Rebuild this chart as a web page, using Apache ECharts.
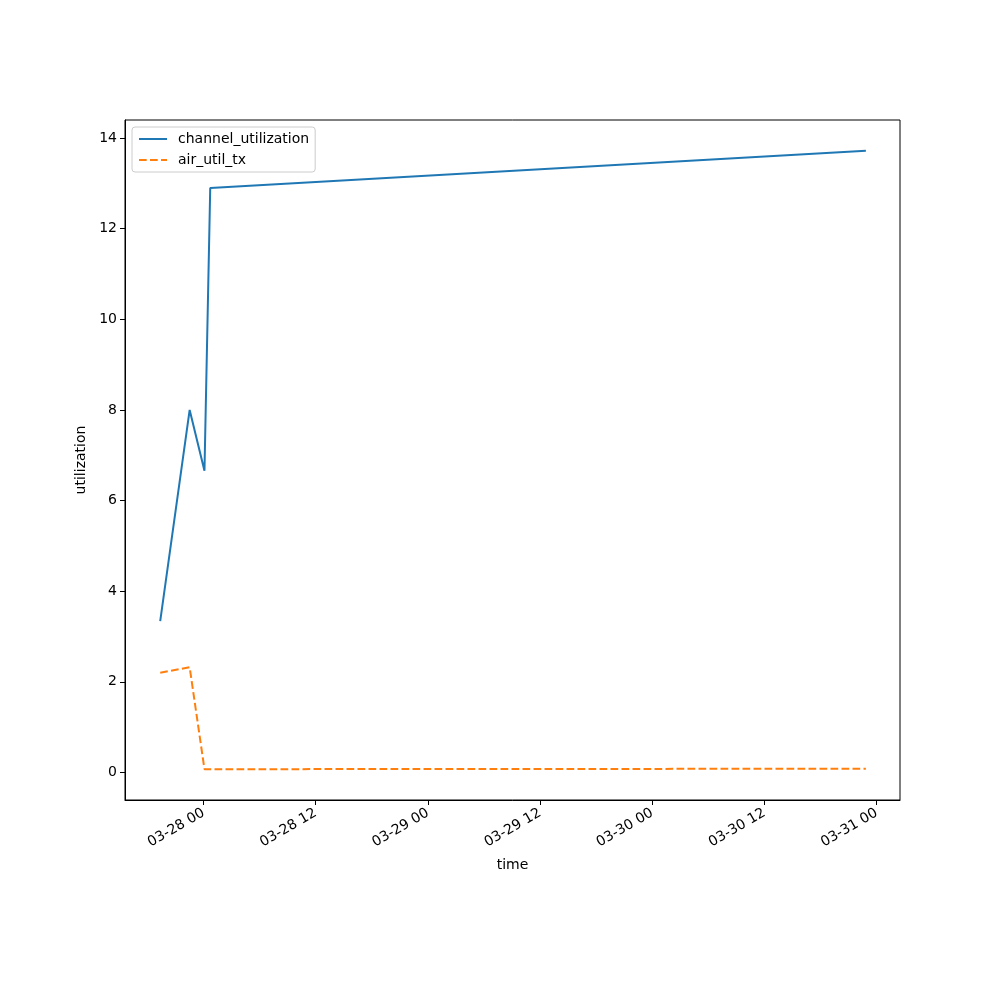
<!DOCTYPE html>
<html>
<head>
<meta charset="utf-8">
<script src="https://cdn.jsdelivr.net/npm/echarts@6/dist/echarts.min.js"></script>
<style>html,body{margin:0;padding:0;background:#fff;}#c{width:1000px;height:1000px;}</style>
</head>
<body>
<div id="c"></div>
<script>
const times = [
  Date.UTC(2024, 2, 27, 19, 22),
  Date.UTC(2024, 2, 27, 22, 31),
  Date.UTC(2024, 2, 28, 0, 6),
  Date.UTC(2024, 2, 28, 0, 43),
  Date.UTC(2024, 2, 30, 22, 51)
];
const channelUtilization = [3.34, 8.0, 6.66, 12.9, 13.72];
const airUtilTx = [2.2, 2.32, 0.07, 0.07, 0.08];
const xTicks = [
  Date.UTC(2024, 2, 28, 0), Date.UTC(2024, 2, 28, 12),
  Date.UTC(2024, 2, 29, 0), Date.UTC(2024, 2, 29, 12),
  Date.UTC(2024, 2, 30, 0), Date.UTC(2024, 2, 30, 12),
  Date.UTC(2024, 2, 31, 0)
];
const yTicks = [0, 2, 4, 6, 8, 10, 12, 14];

const H = 3600 * 1000;
const xMin = Date.UTC(2024, 2, 28, 0) - 8.4 * H;
const xMax = Date.UTC(2024, 2, 28, 0) + 74.5 * H;

function pad(n) { return (n < 10 ? '0' : '') + n; }
function fmt(v) {
  const d = new Date(v);
  return pad(d.getUTCMonth() + 1) + '-' + pad(d.getUTCDate()) + ' ' + pad(d.getUTCHours());
}

const chart = echarts.init(document.getElementById('c'), null, {renderer: 'canvas'});
const font = 'DejaVu Sans';
chart.setOption({
  animation: false,
  backgroundColor: '#fff',
  textStyle: {fontFamily: font},
  grid: {left: 125, right: 100, top: 120, bottom: 200, show: true, borderColor: '#000', borderWidth: 1, containLabel: false},
  legend: {
    left: 132, top: 127, orient: 'vertical', itemWidth: 28, itemHeight: 14, itemGap: 7,
    padding: [5, 6, 5, 6],
    borderColor: '#cccccc', borderWidth: 1, borderRadius: 3, backgroundColor: 'rgba(255,255,255,0.8)',
    itemStyle: {opacity: 0},
    textStyle: {fontFamily: font, fontSize: 14, color: '#000', padding: [0, 0, 0, 6]},
    data: ['channel_utilization', 'air_util_tx']
  },
  xAxis: {
    type: 'value', min: xMin, max: xMax, scale: true,
    name: 'time', nameLocation: 'middle', nameGap: 58,
    nameTextStyle: {fontFamily: font, fontSize: 14, color: '#000'},
    axisLine: {show: true, onZero: false, lineStyle: {color: '#000', width: 1}},
    axisTick: {show: true, length: 5, lineStyle: {color: '#000'}, customValues: xTicks},
    axisLabel: {rotate: 30, fontSize: 14, color: '#000', fontFamily: font, margin: 12, customValues: xTicks, formatter: fmt},
    splitLine: {show: false}
  },
  yAxis: {
    type: 'value', min: -0.61, max: 14.4,
    name: 'utilization', nameLocation: 'middle', nameGap: 28, nameRotate: 90,
    nameTextStyle: {fontFamily: font, fontSize: 14, color: '#000'},
    axisLine: {show: true, onZero: false, lineStyle: {color: '#000', width: 1}},
    axisTick: {show: true, length: 5, lineStyle: {color: '#000'}, customValues: yTicks},
    axisLabel: {fontSize: 14, color: '#000', fontFamily: font, margin: 8, customValues: yTicks, formatter: v => String(v)},
    splitLine: {show: false}
  },
  series: [
    {
      name: 'channel_utilization', type: 'line', showSymbol: false, symbol: 'none',
      data: times.map((t, i) => [t, channelUtilization[i]]),
      lineStyle: {color: '#1f77b4', width: 2},
      itemStyle: {color: '#1f77b4'}
    },
    {
      name: 'air_util_tx', type: 'line', showSymbol: false, symbol: 'none',
      data: times.map((t, i) => [t, airUtilTx[i]]),
      lineStyle: {color: '#ff7f0e', width: 2, type: [7.7, 3.3]},
      itemStyle: {color: '#ff7f0e'}
    }
  ]
});
</script>
</body>
</html>
